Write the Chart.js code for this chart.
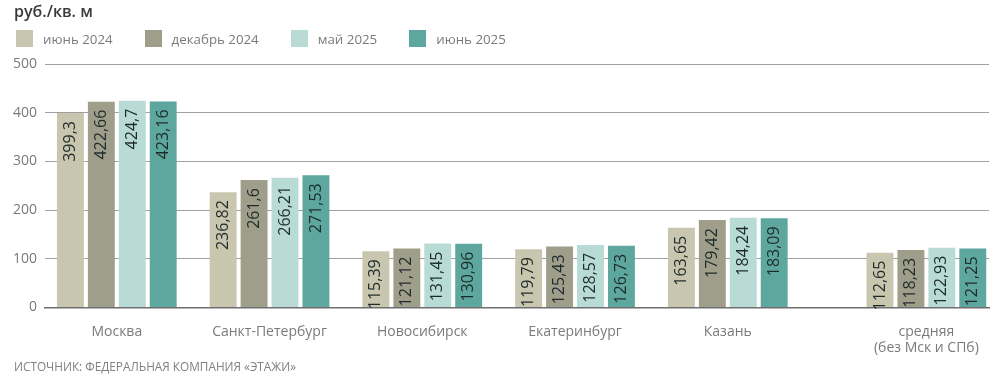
<!DOCTYPE html>
<html>
<head>
<meta charset="utf-8">
<script src="https://cdn.jsdelivr.net/npm/chart.js@4.4.1/dist/chart.umd.min.js"></script>
<style>
  html, body { margin:0; padding:0; background:#fff; }
  #wrap { position:relative; width:1000px; height:383px; overflow:hidden; font-family:"Open Sans", sans-serif; }
  #cv { position:absolute; left:0; top:0; }
  #title { position:absolute; left:14px; top:0px; font-size:16px; font-weight:600; color:#3a3a3a; }
  #legend { position:absolute; left:16px; top:30px; display:flex; gap:32px; }
  .li { display:flex; align-items:center; font-size:13.3px; color:#7a7a7a; height:17px; }
  .sw { width:17px; height:17px; margin-right:10px; }
  #source { position:absolute; left:14px; top:358px; font-size:11.8px; color:#808080; }
</style>
</head>
<body>
<div id="wrap">
  <canvas id="cv" width="1000" height="383"></canvas>
  <div id="title">руб./кв. м</div>
  <div id="legend"></div>
  <div id="source">ИСТОЧНИК: ФЕДЕРАЛЬНАЯ КОМПАНИЯ «ЭТАЖИ»</div>
</div>
<script>
const categories = ["Москва", "Санкт-Петербург", "Новосибирск", "Екатеринбург", "Казань", ["средняя", "(без Мск и СПб)"]];
const seriesNames = ["июнь 2024", "декабрь 2024", "май 2025", "июнь 2025"];
const june2024 = [399.3, 236.82, 115.39, 119.79, 163.65, 112.65];
const dec2024  = [422.66, 261.6, 121.12, 125.43, 179.42, 118.23];
const may2025  = [424.7, 266.21, 131.45, 128.57, 184.24, 122.93];
const june2025 = [423.16, 271.53, 130.96, 126.73, 183.09, 121.25];
const yTicks = [0, 100, 200, 300, 400, 500];

const colors = ["#c8c6ae", "#9f9e8b", "#b8dbd5", "#5ea79f"];
const seriesValues = [june2024, dec2024, may2025, june2025];

// category centres on a linear axis; the last group is set a bit apart
const xPos = categories.map((c, i) => i + (i === categories.length - 1 ? 0.3 : 0));

// HTML legend
const lg = document.getElementById('legend');
seriesNames.forEach((n, i) => {
  const d = document.createElement('div'); d.className = 'li';
  const s = document.createElement('div'); s.className = 'sw'; s.style.background = colors[i];
  d.appendChild(s); d.appendChild(document.createTextNode(n)); lg.appendChild(d);
});

const valueLabels = {
  id: 'valueLabels',
  afterDatasetsDraw(chart) {
    const ctx = chart.ctx;
    ctx.save();
    ctx.font = '16px "Open Sans", sans-serif';
    ctx.fillStyle = '#1e2b2b';
    ctx.textAlign = 'right';
    ctx.textBaseline = 'middle';
    chart.data.datasets.forEach((ds, di) => {
      const meta = chart.getDatasetMeta(di);
      meta.data.forEach((el, i) => {
        const v = ds.data[i].y;
        ctx.save();
        ctx.translate(el.x, el.y + 8);
        ctx.rotate(-Math.PI / 2);
        ctx.fillText(String(v).replace('.', ','), 0, 0);
        ctx.restore();
      });
    });
    ctx.restore();
  }
};

new Chart(document.getElementById('cv'), {
  type: 'bar',
  data: {
    datasets: seriesValues.map((vals, si) => ({
      label: seriesNames[si],
      data: vals.map((v, i) => ({ x: xPos[i], y: v })),
      backgroundColor: colors[si],
      borderWidth: 0,
      categoryPercentage: 0.81,
      barPercentage: 0.87
    }))
  },
  options: {
    responsive: false,
    animation: false,
    layout: { padding: { top: 64, right: 11, bottom: 0, left: 0 } },
    plugins: { legend: { display: false }, tooltip: { enabled: false } },
    scales: {
      x: {
        type: 'linear',
        min: -0.47,
        max: xPos[xPos.length - 1] + 0.41,
        offset: false,
        grid: { display: false, drawTicks: false },
        border: { display: true, color: '#6f6f6f', width: 1.5 },
        ticks: {
          autoSkip: false, maxRotation: 0, padding: 17,
          color: '#7a7a7a', font: { family: '"Open Sans", sans-serif', size: 14, lineHeight: 1.1 },
          callback: (v, i) => categories[i]
        },
        afterBuildTicks: s => { s.ticks = xPos.map(v => ({ value: v })); },
        afterFit: s => { s.height = 75.5; }
      },
      y: {
        min: 0, max: 500,
        afterBuildTicks: s => { s.ticks = yTicks.map(v => ({ value: v })); },
        ticks: { padding: 8, color: '#7a7a7a', font: { family: '"Open Sans", sans-serif', size: 14 } },
        grid: { color: '#a0a0a0', lineWidth: 1, drawTicks: false },
        border: { display: false },
        afterFit: s => { s.width = 45; }
      }
    }
  },
  plugins: [valueLabels]
});
</script>
</body>
</html>
